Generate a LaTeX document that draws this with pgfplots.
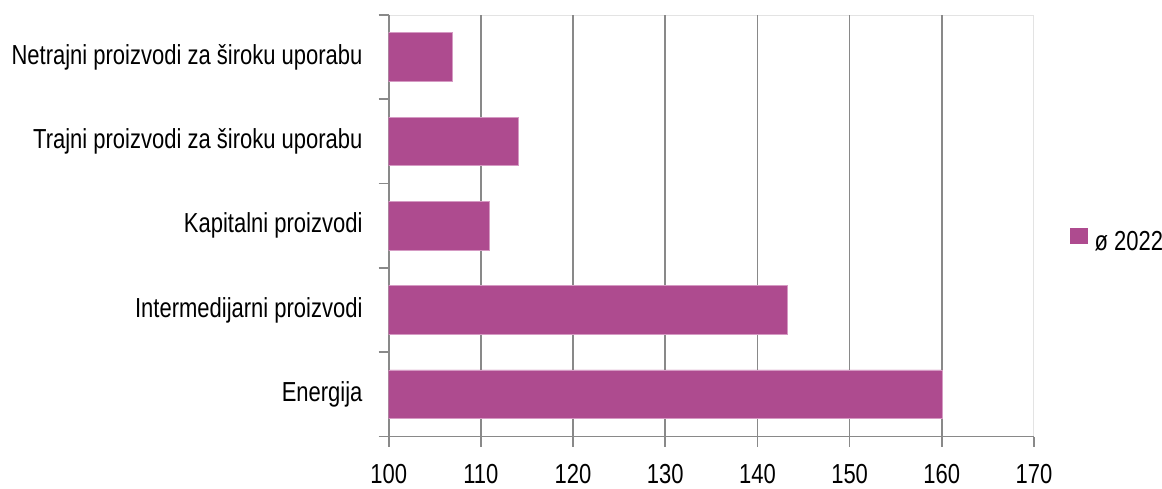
\documentclass[border=0pt]{standalone}
\usepackage{pgfplots}
\pgfplotsset{compat=1.18}
\usepackage{fontspec}
\setmainfont{Liberation Sans}[FakeStretch=0.80]
\definecolor{barc}{HTML}{AE4B8F}
\definecolor{baredge}{HTML}{D59AC3}
\definecolor{gridc}{HTML}{898989}
\definecolor{boxc}{HTML}{E3E3E3}
\begin{document}
\fontsize{27.5}{32}\selectfont
\begin{tikzpicture}[x=1pt,y=1pt]
\useasboundingbox (0,0) rectangle (1162,488);
\begin{axis}[
  name=ax,
  at={(388.7pt,51.5pt)}, anchor=south west,
  scale only axis, width=645.3pt, height=421.5pt,
  xbar, xmin=100, xmax=170, ymin=-0.5, ymax=4.5,
  bar width=0.578,
  /pgf/number format/assume math mode=true,
  tick align=outside, major tick length=10pt,
  xtick={100,110,...,170}, xtick pos=bottom,
  ytick={-0.5,0.5,...,4.5}, yticklabels={}, ytick pos=left,
  tick style={gridc, line width=1.7pt},
  extra y ticks={0,1,2,3,4},
  extra y tick labels={Energija, Intermedijarni proizvodi, Kapitalni proizvodi, Trajni proizvodi za široku uporabu, Netrajni proizvodi za široku uporabu},
  extra y tick style={major tick length=0pt, yticklabel style={inner sep=0pt, xshift=-26pt}},
  extra x ticks={100,110,...,160}, extra x tick labels={},
  extra x tick style={grid=major, major tick length=0pt},
  grid style={gridc, line width=1.7pt},
  xticklabel style={inner sep=0pt, text depth=0pt, anchor=north, yshift=-18pt},
  axis line style={boxc, line width=1pt},
  legend style={at={(1.0558,0.463)}, anchor=west, draw=none, inner sep=0pt, nodes={inner sep=0pt}, column sep=0pt},
  legend image code/.code={\fill[#1,draw=none] (0pt,-1pt) rectangle (17.7pt,15pt); \path (24pt,0pt);},
]
\addplot[fill=barc, draw=baredge, line width=0.8pt] coordinates {(160.1,0) (143.3,1) (110.9,2) (114.1,3) (106.9,4)};
\addlegendentry{ø 2022}
\end{axis}
\draw[gridc, line width=1.7pt] (ax.south west) -- (ax.south east);
\end{tikzpicture}
\end{document}
